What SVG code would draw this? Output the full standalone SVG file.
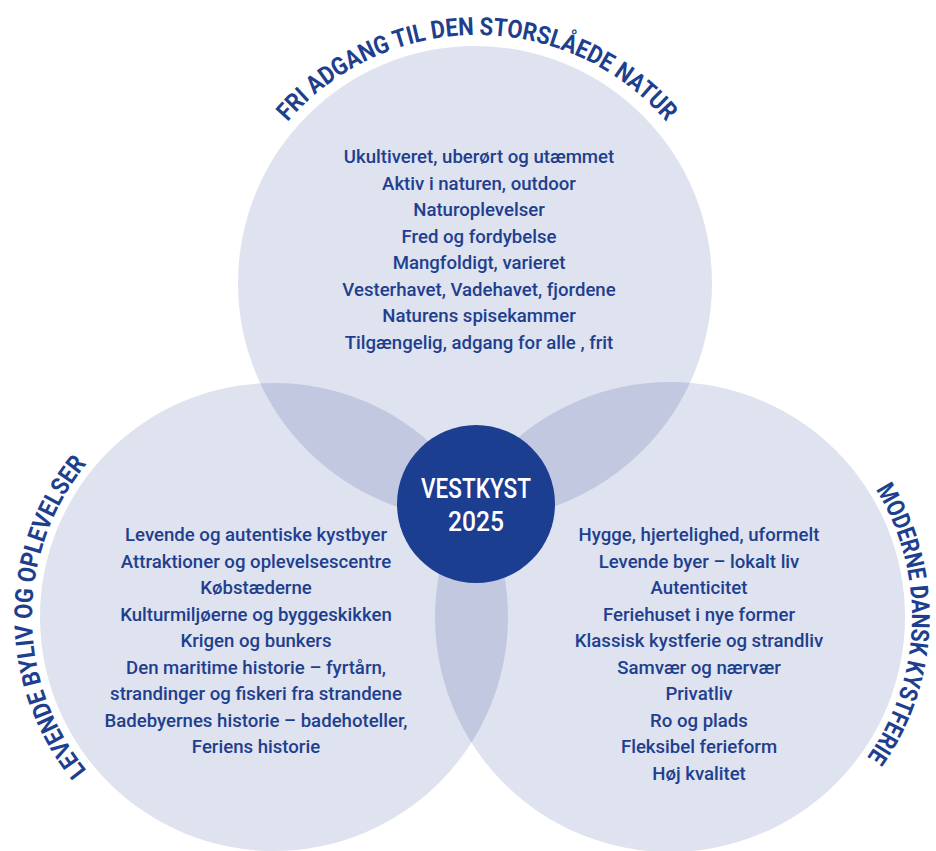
<svg xmlns="http://www.w3.org/2000/svg" width="936" height="851" viewBox="0 0 936 851">
<style>
.c{fill:#dfe2ef}
.o{fill:#c1c8e0}
.t{font-family:Roboto,"Liberation Sans",sans-serif;font-size:18.6px;font-weight:500;fill:#1e3f8e;text-anchor:middle}
.h{font-family:Roboto,"Liberation Sans",sans-serif;font-weight:700;font-size:25px;fill:#1e3f8e;text-anchor:middle}
.w{font-family:Roboto,"Liberation Sans",sans-serif;font-weight:500;font-size:28px;fill:#ffffff;text-anchor:middle}
</style>
<defs>
<clipPath id="cT"><circle cx="475" cy="283" r="237"/></clipPath>
<clipPath id="cL"><circle cx="274" cy="617" r="234"/></clipPath>
<path id="arcT" d="M 227,285 A 250,250 0 0 1 727,285"/>
<path id="arcL" d="M 274,859 A 242,242 0 0 1 274,375"/>
<path id="arcR" d="M 670,375 A 242,242 0 0 1 670,859"/>
</defs>
<g id="circles">
<circle class="c" cx="475" cy="283" r="237"/>
<circle class="c" cx="274" cy="617" r="234"/>
<circle class="c" cx="670" cy="617" r="235"/>
<g clip-path="url(#cT)"><circle class="o" cx="274" cy="617" r="234"/><circle class="o" cx="670" cy="617" r="235"/></g>
<g clip-path="url(#cL)"><circle class="o" cx="670" cy="617" r="235"/></g>
</g>
<g id="node-top">
<text class="h"><textPath href="#arcT" startOffset="50%" textLength="430" lengthAdjust="spacingAndGlyphs">FRI ADGANG TIL DEN STORSLÅEDE NATUR</textPath></text>
<text class="t" x="479" y="163">Ukultiveret, uberørt og utæmmet</text>
<text class="t" x="479" y="189.5">Aktiv i naturen, outdoor</text>
<text class="t" x="479" y="216">Naturoplevelser</text>
<text class="t" x="479" y="242.5">Fred og fordybelse</text>
<text class="t" x="479" y="269">Mangfoldigt, varieret</text>
<text class="t" x="479" y="295.5">Vesterhavet, Vadehavet, fjordene</text>
<text class="t" x="479" y="322">Naturens spisekammer</text>
<text class="t" x="479" y="348.5">Tilgængelig, adgang for alle , frit</text>
</g>
<g id="node-left">
<text class="h"><textPath href="#arcL" startOffset="50%" textLength="332" lengthAdjust="spacingAndGlyphs">LEVENDE BYLIV OG OPLEVELSER</textPath></text>
<text class="t" x="256" y="541">Levende og autentiske kystbyer</text>
<text class="t" x="256" y="567.5">Attraktioner og oplevelsescentre</text>
<text class="t" x="256" y="594">Købstæderne</text>
<text class="t" x="256" y="620.5">Kulturmiljøerne og byggeskikken</text>
<text class="t" x="256" y="647">Krigen og bunkers</text>
<text class="t" x="256" y="673.5">Den maritime historie – fyrtårn,</text>
<text class="t" x="256" y="700">strandinger og fiskeri fra strandene</text>
<text class="t" x="256" y="726.5">Badebyernes historie – badehoteller,</text>
<text class="t" x="256" y="753">Feriens historie</text>
</g>
<g id="node-right">
<text class="h"><textPath href="#arcR" startOffset="51%" textLength="284" lengthAdjust="spacingAndGlyphs">MODERNE DANSK KYSTFERIE</textPath></text>
<text class="t" x="699" y="541">Hygge, hjertelighed, uformelt</text>
<text class="t" x="699" y="567.5">Levende byer – lokalt liv</text>
<text class="t" x="699" y="594">Autenticitet</text>
<text class="t" x="699" y="620.5">Feriehuset i nye former</text>
<text class="t" x="699" y="647">Klassisk kystferie og strandliv</text>
<text class="t" x="699" y="673.5">Samvær og nærvær</text>
<text class="t" x="699" y="700">Privatliv</text>
<text class="t" x="699" y="726.5">Ro og plads</text>
<text class="t" x="699" y="753">Fleksibel ferieform</text>
<text class="t" x="699" y="779.5">Høj kvalitet</text>
</g>
<g id="node-center">
<circle cx="476" cy="504" r="79" fill="#1b3e91"/>
<text class="w" x="476" y="498" textLength="110" lengthAdjust="spacingAndGlyphs">VESTKYST</text>
<text class="w" x="476" y="531" textLength="56" lengthAdjust="spacingAndGlyphs">2025</text>
</g>
<g id="connectors"></g>
</svg>
